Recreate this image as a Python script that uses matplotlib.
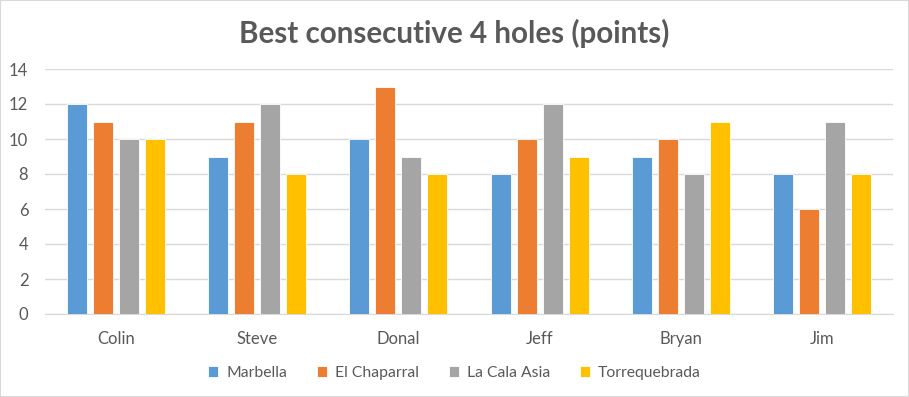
import numpy as np
import matplotlib
matplotlib.use("Agg")
import matplotlib.pyplot as plt

players = ["Colin", "Steve", "Donal", "Jeff", "Bryan", "Jim"]
marbella = [12, 9, 10, 8, 9, 8]
el_chaparral = [11, 11, 13, 10, 10, 6]
la_cala_asia = [10, 12, 9, 12, 8, 11]
torrequebrada = [10, 8, 8, 9, 11, 8]

series = [
    ("Marbella", marbella, "#5B9BD5"),
    ("El Chaparral", el_chaparral, "#ED7D31"),
    ("La Cala Asia", la_cala_asia, "#A5A5A5"),
    ("Torrequebrada", torrequebrada, "#FFC000"),
]

plt.rcParams["font.family"] = ["Lato", "DejaVu Sans"]
text_col = "#595959"

fig = plt.figure(figsize=(9.09, 3.97), dpi=100)
ax = fig.add_axes([45 / 909, 1 - 314 / 397, 848 / 909, 245 / 397])

x = np.arange(len(players))
width = 0.1415
step = 0.184
for i, (name, vals, col) in enumerate(series):
    ax.bar(x + (i - 1.5) * step, vals, width, color=col, label=name,
           edgecolor="white", linewidth=0.6, zorder=3)

ax.set_xlim(-0.5, len(players) - 0.5)
ax.set_ylim(0, 14)
ax.set_yticks(range(0, 15, 2))
ax.set_xticks(x)
ax.set_xticklabels(players)
ax.grid(axis="y", color="#D9D9D9", linewidth=1, zorder=0)
for s in ["top", "right", "left"]:
    ax.spines[s].set_visible(False)
ax.spines["bottom"].set_color("#D9D9D9")
ax.tick_params(axis="both", length=0, colors=text_col, labelsize=12)
ax.tick_params(axis="y", pad=12)
ax.tick_params(axis="x", pad=12)

fig.text(0.5, 1 - 33 / 397, "Best consecutive 4 holes (points)",
         ha="center", va="center", fontsize=21.3, fontweight="bold",
         color=text_col)
fig.legend(loc="center", bbox_to_anchor=(0.5, 1 - 373 / 397), ncol=4,
           frameon=False, fontsize=11.3, labelcolor=text_col,
           handlelength=0.65, handleheight=0.65, columnspacing=1.9,
           handletextpad=0.5)

border = plt.Rectangle((0, 0), 1, 1, transform=fig.transFigure, fill=False,
                       edgecolor="#D9D9D9", linewidth=1.5)
fig.patches.append(border)

fig.savefig("out.png", dpi=100)
